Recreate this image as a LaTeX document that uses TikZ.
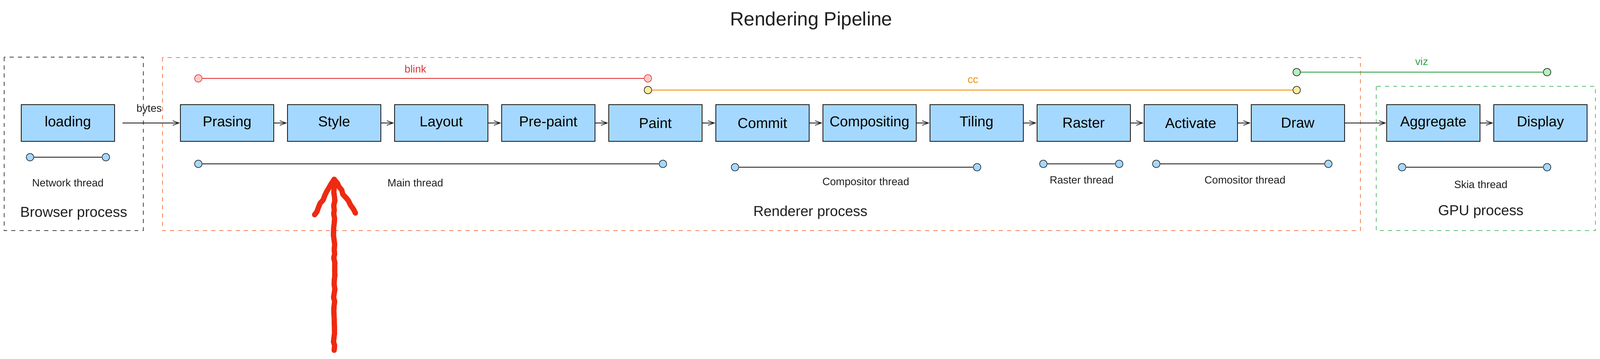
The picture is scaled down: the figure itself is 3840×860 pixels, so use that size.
\documentclass[tikz,border=0pt]{standalone}
\usepackage{fontspec}
\setmainfont{Liberation Sans}
\usetikzlibrary{arrows.meta,positioning,decorations.pathmorphing}
\definecolor{ink}{HTML}{1E1E1E}
\definecolor{stagefill}{HTML}{A5D8FF}
\definecolor{blinkred}{HTML}{E03131}
\definecolor{blinkpale}{HTML}{FFC9C9}
\definecolor{ccorange}{HTML}{F08C00}
\definecolor{ccpale}{HTML}{FFEC99}
\definecolor{vizgreen}{HTML}{2F9E44}
\definecolor{vizpale}{HTML}{B2F2BB}
\definecolor{browsergrey}{HTML}{495057}
\definecolor{rendererpeach}{HTML}{F08A5D}
\definecolor{gpugreen}{HTML}{69C27C}
\definecolor{markred}{HTML}{EE2A12}
\tikzset{
  stage/.style={draw=ink, fill=stagefill, line width=0.6pt, minimum width=2.24cm, minimum height=0.88cm, inner sep=0pt, font=\fontsize{9.8}{12}\selectfont},
  flow/.style={-{Straight Barb[length=1.5mm, width=1.1mm]}, line width=0.45pt, ink},
  procbox/.style={dash pattern=on 2.8pt off 2.8pt, line width=0.6pt},
  proclabel/.style={font=\fontsize{9.8}{12}\selectfont, text=ink},
  tdot/.style={circle, draw=ink, fill=stagefill, line width=0.4pt, minimum size=1.8mm, inner sep=0pt},
  tline/.style={line width=0.75pt, ink},
  tlabel/.style={font=\fontsize{7.2}{9}\selectfont, text=ink},
  handarrow/.style={markred, line width=3.6pt, line cap=round, line join=round, decorate, decoration={random steps, segment length=3pt, amplitude=0.5pt}},
}

\begin{document}
\begin{tikzpicture}[x=0.01cm, y=-0.01cm, node distance=3.07mm]
  \useasboundingbox (0,0) rectangle (3840,860);
  \node[font=\fontsize{13.1}{16}\selectfont, text=ink] (title) at (1947,50) {Rendering Pipeline};

  \draw[procbox, browsergrey] (10,137) rectangle (344,553);
  \draw[procbox, rendererpeach] (390,138) rectangle (3265,553);
  \draw[procbox, gpugreen] (3303,207) rectangle (3829,553);
  \node[proclabel] (brw) at (177,512) {Browser process};
  \node[proclabel] (rnd) at (1945,510) {Renderer process};
  \node[proclabel] (gpu) at (3554,508) {GPU process};

  \node[stage] (load) at (163,295) {loading};
  \node[stage] (pars) at (545,295) {Prasing};
  \node[stage, right=of pars] (sty) {Style};
  \node[stage, right=of sty] (lay) {Layout};
  \node[stage, right=of lay] (pre) {Pre-paint};
  \node[stage, right=of pre] (pnt) {Paint};
  \node[stage, right=of pnt] (cmt) {Commit};
  \node[stage, right=of cmt] (cmp) {Compositing};
  \node[stage, right=of cmp] (til) {Tiling};
  \node[stage, right=of til] (ras) {Raster};
  \node[stage, right=of ras] (act) {Activate};
  \node[stage, right=of act] (drw) {Draw};
  \node[stage] (aggr) at (3440,295) {Aggregate};
  \node[stage, right=of aggr] (disp) {Display};

  \draw[flow, shorten <=1.8mm] (load.east) -- (pars.west);
  \node[tlabel] (bytes) at (358,262) {bytes};
  \foreach \a/\b in {pars/sty, sty/lay, lay/pre, pre/pnt, pnt/cmt, cmt/cmp, cmp/til, til/ras, ras/act, act/drw, drw/aggr, aggr/disp}
    \draw[flow] (\a.east) -- (\b.west);

  \node[tdot] (n1) at (72,377) {};
  \node[tdot] (n2) at (254,377) {};
  \draw[tline] (n1) -- (n2);
  \node[tlabel] at (163,438) {Network thread};

  \node[tdot] (m1) at (476,393) {};
  \node[tdot] (m2) at (1591,393) {};
  \draw[tline] (m1) -- (m2);
  \node[tlabel] at (997,438) {Main thread};

  \node[tdot] (c1) at (1764,401) {};
  \node[tdot] (c2) at (2345,401) {};
  \draw[tline] (c1) -- (c2);
  \node[tlabel] at (2078,438) {Compositor thread};

  \node[tdot] (r1) at (2504,393) {};
  \node[tdot] (r2) at (2686,393) {};
  \draw[tline] (r1) -- (r2);
  \node[tlabel] at (2596,431) {Raster thread};

  \node[tdot] (k1) at (2775,393) {};
  \node[tdot] (k2) at (3188,393) {};
  \draw[tline] (k1) -- (k2);
  \node[tlabel] at (2988,431) {Comositor thread};

  \node[tdot] (s1) at (3365,401) {};
  \node[tdot] (s2) at (3713,401) {};
  \draw[tline] (s1) -- (s2);
  \node[tlabel] at (3554,442) {Skia thread};

  \node[tdot, draw=blinkred, fill=blinkpale] (b1) at (476,188) {};
  \node[tdot, draw=blinkred, fill=blinkpale] (b2) at (1555,188) {};
  \draw[tline, blinkred] (b1) -- (b2);
  \node[tlabel, text=blinkred] at (997,165) {blink};

  \node[tdot, fill=ccpale] (cc1) at (1555,216) {};
  \node[tdot, fill=ccpale] (cc2) at (3112,216) {};
  \draw[tline, ccorange] (cc1) -- (cc2);
  \node[tlabel, text=ccorange] at (2335,193) {cc};

  \node[tdot, fill=vizpale] (v1) at (3112,173) {};
  \node[tdot, fill=vizpale] (v2) at (3713,173) {};
  \draw[tline, vizgreen] (v1) -- (v2);
  \node[tlabel, text=vizgreen] at (3412,147) {viz};

  \coordinate (mk0) at (802,840);
  \coordinate (mk1) at (802,430);
  \coordinate (mkl) at (755,515);
  \coordinate (mkr) at (853,511);
  \draw[handarrow] (mk0) -- (mk1);
  \draw[handarrow] (mkl) -- (mk1) -- (mkr);
\end{tikzpicture}
\end{document}
